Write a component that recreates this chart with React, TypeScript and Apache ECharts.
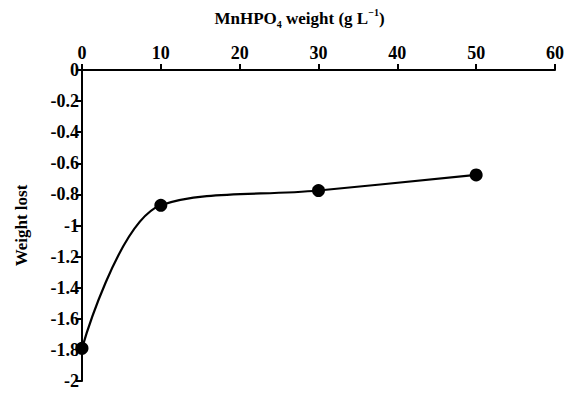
import React, { useEffect, useRef } from "react";
import * as echarts from "echarts";

const xValues = [0, 10, 30, 50];
const weightLost = [-1.79, -0.87, -0.775, -0.675];
const xTicks = [0, 10, 20, 30, 40, 50, 60];

const FONT = "Liberation Serif";

export default function App() {
  const ref = useRef<HTMLDivElement>(null);
  useEffect(() => {
    if (!ref.current) return;
    const chart = echarts.init(ref.current, undefined, { renderer: "svg" });
    chart.setOption({
      animation: false,
      backgroundColor: "#ffffff",
      textStyle: { fontFamily: FONT },
      grid: { left: 82, top: 70, right: 16, bottom: 13, containLabel: false, outerBoundsMode: "none" },
      xAxis: {
        type: "value",
        position: "top",
        min: xTicks[0],
        max: xTicks[xTicks.length - 1],
        interval: 10,
        splitLine: { show: false },
        axisLine: { show: true, onZero: false, lineStyle: { color: "#000", width: 2 } },
        axisTick: { show: true, inside: false, length: 6, lineStyle: { color: "#000", width: 2 } },
        axisLabel: { color: "#000", fontFamily: FONT, fontWeight: "bold", fontSize: 18, margin: 8 },
        name: "{a|MnHPO}{s|4}{a| weight (g L}{p|\u22121}{a|)}",
        nameLocation: "middle",
        nameGap: 41,
        nameTextStyle: {
          padding: [0, 38, 0, 0],
          rich: {
            a: { fontFamily: FONT, fontWeight: "bold", fontSize: 17, color: "#000", lineHeight: 22, verticalAlign: "middle" },
            s: { fontFamily: FONT, fontWeight: "bold", fontSize: 10, color: "#000", lineHeight: 22, verticalAlign: "bottom", padding: [10, 0, 0, 0] },
            p: { fontFamily: FONT, fontWeight: "bold", fontSize: 10, color: "#000", lineHeight: 22, verticalAlign: "top", padding: [0, 0, 8, 0] },
          },
        },
      },
      yAxis: {
        type: "value",
        min: -2,
        max: 0,
        interval: 0.2,
        splitLine: { show: false },
        axisLine: { show: true, onZero: false, lineStyle: { color: "#000", width: 2 } },
        axisTick: { show: true, inside: false, length: 6, lineStyle: { color: "#000", width: 2 } },
        axisLabel: {
          color: "#000",
          fontFamily: FONT,
          fontWeight: "bold",
          fontSize: 18,
          margin: 3,
          formatter: (v: number) => String(Number(v.toFixed(1))),
        },
        name: "Weight lost",
        nameLocation: "middle",
        nameGap: 52,
        nameRotate: 90,
        nameTextStyle: { fontFamily: FONT, fontWeight: "bold", fontSize: 17, color: "#000" },
      },
      series: [
        {
          type: "line",
          data: xValues.map((x, i) => [x, weightLost[i]]),
          smooth: 0.35,
          symbol: "circle",
          symbolSize: 13,
          itemStyle: { color: "#000" },
          lineStyle: { color: "#000", width: 2.2 },
        },
      ],
    });
    return () => chart.dispose();
  }, []);
  return <div ref={ref} style={{ width: 571, height: 394, position: "absolute", left: 0, top: 0 }} />;
}
